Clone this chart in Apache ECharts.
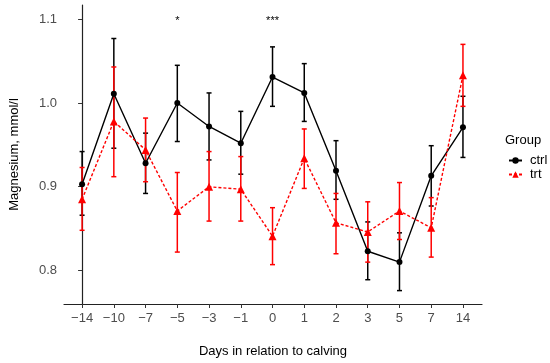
<!DOCTYPE html>
<html><head><meta charset="utf-8">
<script src="https://cdn.jsdelivr.net/npm/echarts@6/dist/echarts.min.js"></script>
<style>html,body{margin:0;padding:0;background:#fff}#c{width:550px;height:363px}</style>
</head><body><div id="c"></div>
<script>
var days = ['\u221214','\u221210','\u22127','\u22125','\u22123','\u22121','0','1','2','3','5','7','14'];
var yTicks = [0.8, 0.9, 1.0, 1.1];
var ctrlMean = [0.903,1.011,0.928,1.000,0.972,0.952,1.031,1.012,0.919,0.823,0.810,0.913,0.971];
var ctrlLow  = [0.866,0.946,0.892,0.954,0.932,0.915,0.996,0.978,0.885,0.789,0.776,0.877,0.935];
var ctrlHigh = [0.942,1.077,0.964,1.045,1.012,0.990,1.067,1.047,0.955,0.858,0.845,0.949,1.008];
var trtMean  = [0.885,0.978,0.944,0.871,0.900,0.897,0.841,0.934,0.857,0.846,0.871,0.851,1.033];
var trtLow   = [0.848,0.912,0.906,0.822,0.859,0.859,0.807,0.898,0.820,0.810,0.837,0.816,0.996];
var trtHigh  = [0.923,1.043,0.982,0.917,0.942,0.936,0.875,0.969,0.892,0.882,0.905,0.887,1.070];
var sigLabels = ['','','','*','','','***','','','','','',''];
var sigLevel = 1.1;

var idx = days.map(function(d,i){return i;});
function pts(arr){return arr.map(function(v,i){return [i,v];});}
function errData(lo,hi){return lo.map(function(v,i){return [i,v,hi[i]];});}
function errSeries(lo,hi,color){
  return {
    type:'custom', silent:true, z:3,
    data: errData(lo,hi),
    renderItem:function(params,api){
      var x=api.value(0);
      var p1=api.coord([x,api.value(1)]);
      var p2=api.coord([x,api.value(2)]);
      var w=2.5;
      var st={stroke:color,lineWidth:1.5};
      return {type:'group',children:[
        {type:'line',shape:{x1:p1[0],y1:p1[1],x2:p2[0],y2:p2[1]},style:st},
        {type:'line',shape:{x1:p1[0]-w,y1:p1[1],x2:p1[0]+w,y2:p1[1]},style:st},
        {type:'line',shape:{x1:p2[0]-w,y1:p2[1],x2:p2[0]+w,y2:p2[1]},style:st}
      ]};
    }
  };
}
var font='Liberation Sans, Arial, sans-serif';
var chart=echarts.init(document.getElementById('c'),null,{renderer:'canvas'});
chart.setOption({
  animation:false,
  grid:{left:64,right:68,top:5,bottom:58,containLabel:false},
  xAxis:{type:'value',min:-0.57,max:12.6,
    name:'Days in relation to calving',nameLocation:'middle',nameGap:41,
    nameTextStyle:{fontFamily:font,fontSize:13,color:'#000'},
    axisLine:{show:true,lineStyle:{color:'#222',width:1.2}},
    axisTick:{show:true,length:4,lineStyle:{color:'#333'},customValues:idx},
    axisLabel:{customValues:idx,formatter:function(v){return days[Math.round(v)];},
      fontFamily:font,fontSize:13,color:'#4d4d4d',margin:8},
    splitLine:{show:false}},
  yAxis:{type:'value',min:0.76,max:1.117,
    name:'Magnesium, mmol/l',nameLocation:'middle',nameGap:43,
    nameTextStyle:{fontFamily:font,fontSize:13,color:'#000'},
    axisLine:{show:true,lineStyle:{color:'#222',width:1.2}},
    axisTick:{show:true,length:4,lineStyle:{color:'#333'},customValues:yTicks},
    axisLabel:{customValues:yTicks,formatter:function(v){return v.toFixed(1);},
      fontFamily:font,fontSize:13,color:'#4d4d4d',margin:7},
    splitLine:{show:false}},
  legend:{orient:'vertical',left:503,top:149,itemWidth:13,itemHeight:8,itemGap:1,
    textStyle:{fontFamily:font,fontSize:13,color:'#000',padding:[0,0,0,3]},
    data:['ctrl','trt']},
  graphic:[{type:'text',left:505,top:134,style:{text:'Group',fontFamily:font,fontSize:13,fill:'#000'}}],
  series:[
    errSeries(ctrlLow,ctrlHigh,'#000'),
    {name:'ctrl',type:'line',data:pts(ctrlMean),symbol:'circle',symbolSize:6,
      itemStyle:{color:'#000'},lineStyle:{color:'#000',width:1.4},z:4},
    errSeries(trtLow,trtHigh,'#ff0000'),
    {name:'trt',type:'line',data:pts(trtMean),symbol:'triangle',symbolSize:8,
      itemStyle:{color:'#ff0000'},lineStyle:{color:'#ff0000',width:1.4,type:[3,2]},z:5},
    {type:'custom',silent:true,z:6,data:sigLabels.map(function(s,i){return [i,sigLevel,s];}),
      renderItem:function(params,api){
        var p=api.coord([api.value(0),api.value(1)]);
        var s=sigLabels[params.dataIndex];
        return {type:'text',x:p[0],y:p[1]-4,style:{text:s,fontFamily:font,fontSize:11,fill:'#000',align:'center',verticalAlign:'top'}};
      }}
  ]
});
</script></body></html>
